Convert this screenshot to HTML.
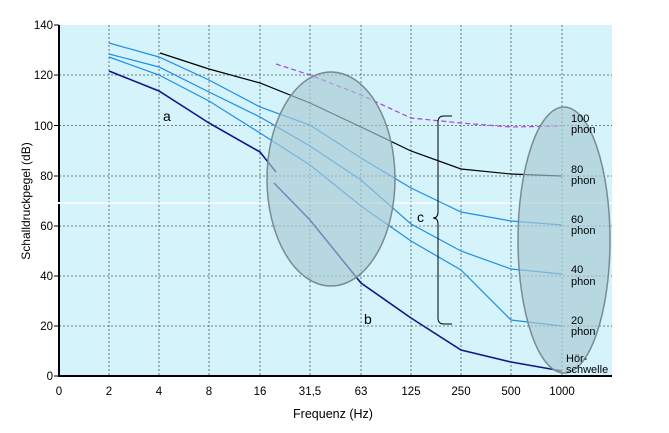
<!DOCTYPE html><html><head><style>body{margin:0;background:#fff}svg{display:block;font-family:"Liberation Sans",sans-serif}</style></head><body>
<svg width="669" height="433" viewBox="0 0 669 433">
<rect x="59" y="25" width="553" height="351" fill="#d4f3fb"/>
<g stroke="#555" stroke-width="0.8" stroke-dasharray="2,2">
<line x1="59" y1="75" x2="612" y2="75"/><line x1="59" y1="125.5" x2="612" y2="125.5"/><line x1="59" y1="176" x2="612" y2="176"/><line x1="59" y1="226" x2="612" y2="226"/><line x1="59" y1="276" x2="612" y2="276"/><line x1="59" y1="326" x2="612" y2="326"/>
<line x1="109" y1="25" x2="109" y2="376"/><line x1="159" y1="25" x2="159" y2="376"/><line x1="209" y1="25" x2="209" y2="376"/><line x1="260" y1="25" x2="260" y2="376"/><line x1="310" y1="25" x2="310" y2="376"/><line x1="361" y1="25" x2="361" y2="376"/><line x1="411" y1="25" x2="411" y2="376"/><line x1="461" y1="25" x2="461" y2="376"/><line x1="511" y1="25" x2="511" y2="376"/><line x1="562" y1="25" x2="562" y2="376"/>
</g>
<line x1="59" y1="203" x2="612" y2="203" stroke="#fff" stroke-width="1.5"/>
<g stroke="#000" stroke-width="2"><line x1="59" y1="25" x2="59" y2="202"/><line x1="59" y1="204" x2="59" y2="377"/><line x1="58" y1="376" x2="612" y2="376"/></g>
<g stroke="#000" stroke-width="1"><line x1="54" y1="25" x2="59" y2="25"/><line x1="54" y1="75" x2="59" y2="75"/><line x1="54" y1="125.5" x2="59" y2="125.5"/><line x1="54" y1="176" x2="59" y2="176"/><line x1="54" y1="226" x2="59" y2="226"/><line x1="54" y1="276" x2="59" y2="276"/><line x1="54" y1="326" x2="59" y2="326"/><line x1="54" y1="376" x2="59" y2="376"/></g>
<g font-size="11.5" text-anchor="end" fill="#000"><text x="53" y="29">140</text><text x="53" y="79">120</text><text x="53" y="130">100</text><text x="53" y="180">80</text><text x="53" y="230">60</text><text x="53" y="280">40</text><text x="53" y="330">20</text><text x="53" y="380">0</text></g>
<g font-size="11.5" text-anchor="middle"><text x="59" y="395">0</text><text x="109" y="395">2</text><text x="159" y="395">4</text><text x="209" y="395">8</text><text x="260" y="395">16</text><text x="310" y="395">31,5</text><text x="361" y="395">63</text><text x="411" y="395">125</text><text x="461" y="395">250</text><text x="511" y="395">500</text><text x="562" y="395">1000</text></g>
<text x="333" y="418" font-size="12.5" text-anchor="middle">Frequenz (Hz)</text>
<text transform="translate(30,201) rotate(-90)" font-size="12" text-anchor="middle">Schalldruckpegel (dB)</text>
<g fill="none" stroke-width="1.2">
<polyline stroke="#1e8ee8" points="109,57 159,75 209,101 260,133 310,165 361,206 411,241 461,270 511,320 562,326"/>
<polyline stroke="#1e8ee8" points="109,54 159,67 209,92 260,117 310,146 361,180 411,224 461,251 511,269 562,274"/>
<polyline stroke="#1e8ee8" points="109,43 159,57 209,80 260,107 310,125 361,158 411,188 461,212 511,221 562,225"/>
<polyline stroke="#000" points="160,53 209,69 260,83 310,103 361,127 411,151 461,169 511,174 562,176"/>
<polyline stroke="#b040e0" stroke-dasharray="5,3" points="276,64 310,75 361,95 411,118 461,123 511,127 562,126"/>
<polyline stroke="#14148a" stroke-width="1.6" points="109,71 159,91 209,123 260,152 276,172"/>
<polyline stroke="#14148a" stroke-width="1.6" points="274,183 310,220 361,283 411,318 461,350 511,362 562,371"/>
</g>
<ellipse cx="331" cy="179" rx="64" ry="107" fill="#a9c9d2" fill-opacity="0.65" stroke="#7a8a90" stroke-width="1.5"/>
<ellipse cx="564" cy="240" rx="46" ry="133" fill="#a9c9d2" fill-opacity="0.65" stroke="#7a8a90" stroke-width="1.5"/>
<path d="M452,116 h-8 q-6,0 -6,6 v90 q0,6 -5,6 q5,0 5,6 v94 q0,6 6,6 h8" fill="none" stroke="#000" stroke-width="1"/>
<g font-size="14"><text x="163" y="121">a</text><text x="364" y="324">b</text><text x="417" y="222">c</text></g>
<g font-size="11"><text x="571" y="122">100</text><text x="571" y="133">phon</text><text x="571" y="173">80</text><text x="571" y="184">phon</text><text x="571" y="223">60</text><text x="571" y="234">phon</text><text x="571" y="273">40</text><text x="571" y="285">phon</text><text x="571" y="324">20</text><text x="571" y="335">phon</text><text x="566" y="362">Hör-</text><text x="566" y="373">schwelle</text></g>
</svg></body></html>
